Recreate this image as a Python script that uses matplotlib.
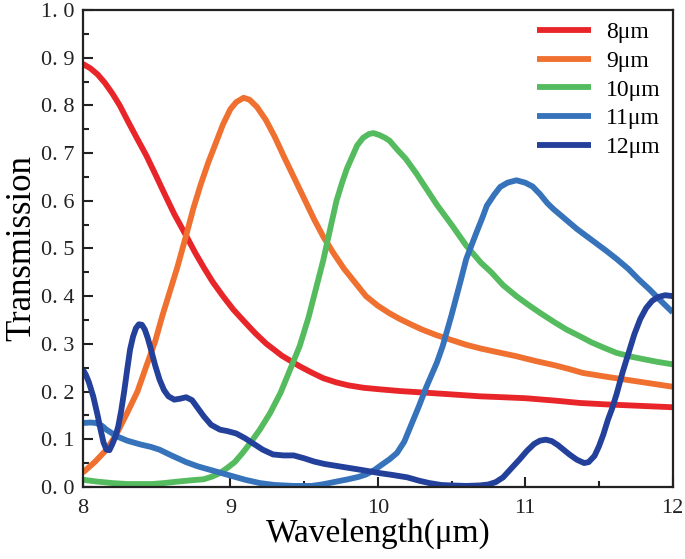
import numpy as np
import matplotlib
matplotlib.use("Agg")
import matplotlib.pyplot as plt
from matplotlib.ticker import MultipleLocator, FuncFormatter

# --- data ---
x_8um = [8.0, 8.05, 8.1, 8.15, 8.2, 8.25, 8.3, 8.36, 8.43, 8.5, 8.55, 8.62, 8.7, 8.76,
         8.82, 8.88, 8.95, 9.02, 9.1, 9.17, 9.245, 9.3, 9.35, 9.41, 9.47, 9.55, 9.63,
         9.72, 9.8, 9.9, 10.0, 10.15, 10.3, 10.5, 10.69, 10.85, 11.0, 11.2, 11.37,
         11.55, 11.7, 11.85, 12.0]
y_8um = [0.887, 0.878, 0.865, 0.847, 0.825, 0.80, 0.77, 0.735, 0.695, 0.65, 0.617,
         0.572, 0.527, 0.492, 0.46, 0.43, 0.40, 0.372, 0.345, 0.322, 0.30, 0.287,
         0.275, 0.264, 0.253, 0.24, 0.228, 0.219, 0.213, 0.208, 0.205, 0.201, 0.198,
         0.194, 0.19, 0.188, 0.186, 0.181, 0.176, 0.173, 0.171, 0.169, 0.167]

x_9um = [8.0, 8.08, 8.16, 8.23, 8.3, 8.37, 8.43, 8.49, 8.54, 8.59, 8.64, 8.7, 8.75,
         8.8, 8.85, 8.9, 8.95, 9.0, 9.04, 9.09, 9.13, 9.18, 9.24, 9.3, 9.36, 9.43,
         9.5, 9.57, 9.63, 9.7, 9.77, 9.85, 9.92, 10.0, 10.08, 10.15, 10.23, 10.3,
         10.4, 10.49, 10.6, 10.7, 10.82, 10.94, 11.07, 11.2, 11.3, 11.39, 11.55,
         11.7, 11.85, 12.0]
y_9um = [0.03, 0.052, 0.078, 0.112, 0.155, 0.20, 0.253, 0.305, 0.36, 0.41, 0.46,
         0.527, 0.585, 0.635, 0.68, 0.72, 0.76, 0.792, 0.807, 0.816, 0.812, 0.797,
         0.77, 0.735, 0.695, 0.65, 0.605, 0.56, 0.525, 0.49, 0.458, 0.427, 0.40,
         0.38, 0.364, 0.352, 0.34, 0.33, 0.318, 0.309, 0.298, 0.29, 0.282, 0.274,
         0.264, 0.255, 0.247, 0.239, 0.231, 0.224, 0.217, 0.21]

x_10um = [8.0, 8.1, 8.2, 8.3, 8.47, 8.55, 8.64, 8.74, 8.82, 8.88, 8.93, 8.98, 9.03,
          9.08, 9.14, 9.2, 9.27, 9.34, 9.4, 9.47, 9.53, 9.58, 9.63, 9.68, 9.72, 9.76,
          9.79, 9.83, 9.86, 9.9, 9.94, 9.97, 10.01, 10.05, 10.08, 10.13, 10.19,
          10.26, 10.33, 10.4, 10.5, 10.6, 10.7, 10.77, 10.85, 10.94, 11.02, 11.1,
          11.2, 11.28, 11.37, 11.45, 11.54, 11.62, 11.72, 11.8, 11.9, 12.0]
y_10um = [0.015, 0.011, 0.008, 0.006, 0.006, 0.008, 0.011, 0.014, 0.016, 0.022,
          0.029, 0.04, 0.052, 0.07, 0.094, 0.12, 0.155, 0.197, 0.242, 0.295, 0.355,
          0.415, 0.475, 0.545, 0.60, 0.64, 0.667, 0.695, 0.716, 0.732, 0.74, 0.742,
          0.738, 0.732, 0.726, 0.708, 0.688, 0.658, 0.625, 0.592, 0.55, 0.506, 0.47,
          0.45, 0.423, 0.40, 0.382, 0.365, 0.345, 0.33, 0.316, 0.303, 0.291, 0.281,
          0.273, 0.268, 0.262, 0.257]

x_11um = [8.0, 8.05, 8.09, 8.13, 8.16, 8.2, 8.23, 8.3, 8.39, 8.46, 8.52, 8.6, 8.7,
          8.78, 8.86, 8.94, 9.02, 9.1, 9.2, 9.3, 9.43, 9.55, 9.62, 9.67, 9.75, 9.8,
          9.87, 9.92, 9.98, 10.02, 10.08, 10.13, 10.18, 10.22, 10.28, 10.33, 10.4,
          10.44, 10.5, 10.56, 10.6, 10.67, 10.71, 10.74, 10.79, 10.83, 10.88, 10.94,
          11.0, 11.05, 11.1, 11.15, 11.19, 11.27, 11.35, 11.45, 11.55, 11.62, 11.7,
          11.77, 11.84, 11.92, 12.0]
y_11um = [0.134, 0.135, 0.134, 0.128, 0.12, 0.112, 0.106, 0.097, 0.089, 0.084, 0.078,
          0.066, 0.052, 0.043, 0.036, 0.029, 0.022, 0.015, 0.008, 0.004, 0.002, 0.002,
          0.005, 0.008, 0.013, 0.016, 0.021, 0.026, 0.036, 0.045, 0.058, 0.071, 0.095,
          0.125, 0.17, 0.21, 0.26, 0.295, 0.36, 0.43, 0.478, 0.534, 0.565, 0.59,
          0.613, 0.629, 0.638, 0.643, 0.638, 0.63, 0.614, 0.595, 0.583, 0.562, 0.541,
          0.518, 0.495, 0.478, 0.457, 0.435, 0.415, 0.39, 0.366]

x_12um = [8.0, 8.02, 8.04, 8.07, 8.1, 8.12, 8.14, 8.16, 8.18, 8.2, 8.22, 8.24, 8.26,
          8.28, 8.3, 8.32, 8.34, 8.36, 8.38, 8.4, 8.42, 8.44, 8.46, 8.49, 8.52, 8.55,
          8.58, 8.62, 8.66, 8.7, 8.74, 8.78, 8.82, 8.87, 8.93, 8.98, 9.04, 9.1, 9.15,
          9.22, 9.29, 9.36, 9.43, 9.5, 9.57, 9.64, 9.72, 9.8, 9.9, 10.01, 10.1, 10.2,
          10.28, 10.35, 10.43, 10.5, 10.6, 10.69, 10.75, 10.8, 10.85, 10.9, 10.96,
          11.01, 11.06, 11.1, 11.14, 11.18, 11.22, 11.26, 11.3, 11.35, 11.4, 11.43,
          11.47, 11.5, 11.53, 11.56, 11.59, 11.62, 11.66, 11.7, 11.74, 11.78, 11.82,
          11.86, 11.9, 11.95, 12.0]
y_12um = [0.246, 0.235, 0.22, 0.19, 0.15, 0.12, 0.093, 0.078, 0.077, 0.09, 0.105,
          0.127, 0.16, 0.20, 0.245, 0.288, 0.315, 0.333, 0.341, 0.34, 0.33, 0.312,
          0.29, 0.255, 0.225, 0.203, 0.19, 0.183, 0.185, 0.188, 0.182, 0.165, 0.148,
          0.13, 0.12, 0.117, 0.112, 0.102, 0.092, 0.078, 0.068, 0.066, 0.066, 0.06,
          0.053, 0.048, 0.044, 0.04, 0.035, 0.029, 0.025, 0.02, 0.013, 0.008, 0.004,
          0.003, 0.002, 0.003, 0.005, 0.01, 0.02, 0.037, 0.057, 0.075, 0.09, 0.097,
          0.099, 0.096, 0.088, 0.078, 0.068, 0.057, 0.05, 0.052, 0.065, 0.085, 0.11,
          0.14, 0.165, 0.195, 0.24, 0.28, 0.32, 0.352, 0.375, 0.39, 0.398, 0.402, 0.40]

labels = ["8μm", "9μm", "10μm", "11μm", "12μm"]
colors = ["#e8262a", "#f07030", "#55bb5f", "#3673bb", "#23409a"]

plt.rcParams.update({
    "font.family": ["Liberation Serif", "DejaVu Serif"],
    "font.size": 16,
})

fig = plt.figure(figsize=(6.85, 5.59), dpi=100)
ax = fig.add_axes([0.121, 0.129, 0.861, 0.853])

series = [(x_8um, y_8um), (x_9um, y_9um), (x_10um, y_10um),
          (x_11um, y_11um), (x_12um, y_12um)]
for (xs, ys), lab, c in zip(series, labels, colors):
    ax.plot(xs, ys, color=c, lw=4.2, label=lab,
            solid_joinstyle="round", solid_capstyle="butt")

ax.set_xlim(8, 12)
ax.set_ylim(0, 1.0)
ax.xaxis.set_major_locator(MultipleLocator(1))
ax.xaxis.set_minor_locator(MultipleLocator(0.5))
ax.yaxis.set_major_locator(MultipleLocator(0.1))
ax.yaxis.set_minor_locator(MultipleLocator(0.05))
ax.yaxis.set_major_formatter(FuncFormatter(lambda v, p: f"{v:.1f}".replace(".", ". ")))
ax.tick_params(which="both", direction="in", top=False, right=False,
               width=1.5, labelsize=16, colors="#222222")
ax.tick_params(which="major", length=7)
ax.tick_params(which="minor", length=4)
ax.tick_params(axis="x", which="major", pad=9)
ax.tick_params(axis="y", which="major", pad=6)
for s in ax.spines.values():
    s.set_linewidth(1.6)
    s.set_color("#222222")

ax.set_xlabel("Wavelength(μm)", fontsize=24, labelpad=0)
ax.set_ylabel("Transmission", fontsize=25, labelpad=2)

leg = ax.legend(loc="upper right", frameon=False, fontsize=17, handlelength=2.3,
                handletextpad=0.65, labelspacing=0.3, borderaxespad=0.1)

fig.savefig("out.png", dpi=100)
